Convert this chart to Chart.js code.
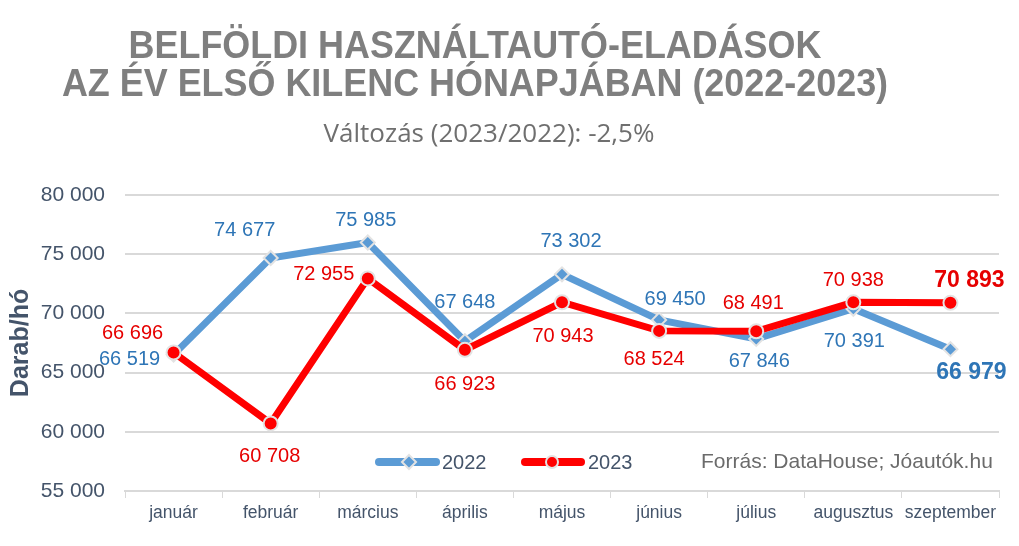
<!DOCTYPE html>
<html lang="hu">
<head>
<meta charset="utf-8">
<title>Belföldi használtautó-eladások</title>
<script src="https://cdn.jsdelivr.net/npm/chart.js@4.4.0/dist/chart.umd.min.js"></script>
<style>
  html, body { margin: 0; padding: 0; background: #fff; }
  #wrap { width: 1019px; height: 546px; }
</style>
</head>
<body>
<div id="wrap"><canvas id="myChart" width="1019" height="546"></canvas></div>
<script>
const months = ['január', 'február', 'március', 'április', 'május', 'június', 'július', 'augusztus', 'szeptember'];
const sales2022 = [66519, 74677, 75985, 67648, 73302, 69450, 67846, 70391, 66979];
const sales2023 = [66696, 60708, 72955, 66923, 70943, 68524, 68491, 70938, 70893];
const yMin = 55000;
const yMax = 80000;
const yStep = 5000;

// where each value label sits relative to its point (dx, dy in px)
const labelOffsets2022 = [[-44, 5], [-26, -28], [-2, -22], [0, -39], [9, -33], [16, -20], [3, 23], [1, 33], [21, 23]];
const labelOffsets2023 = [[-41, -19], [-1, 33], [-44, -4], [0, 35], [1, 34], [-5, 29], [-3, -28], [0, -22], [19, -22]];

const BLUE = '#5b9bd5';
const RED = '#ff0000';
const TXT = '#44546a';
const FONT = '"Liberation Sans", Arial, sans-serif';

const fmt = v => String(v).replace(/\B(?=(\d{3})+(?!\d))/g, ' ');

const valueLabels = {
  id: 'valueLabels',
  afterDatasetsDraw(chart) {
    const ctx = chart.ctx;
    ctx.save();
    ctx.textAlign = 'center';
    ctx.textBaseline = 'middle';
    chart.data.datasets.forEach((ds, i) => {
      const meta = chart.getDatasetMeta(i);
      meta.data.forEach((pt, j) => {
        const off = ds.labelOffsets[j];
        const last = j === ds.data.length - 1;
        ctx.font = (last ? 'bold 23px ' : '20px ') + FONT;
        ctx.fillStyle = ds.labelColor;
        ctx.fillText(fmt(ds.data[j]), pt.x + off[0], pt.y + off[1]);
      });
    });
    ctx.restore();
  }
};

// squeezed text, the title font in the original is a bit narrower than Arial
function narrowText(ctx, text, x, y, sx) {
  ctx.save();
  ctx.translate(x, y);
  ctx.scale(sx, 1);
  ctx.fillText(text, 0, 0);
  ctx.restore();
}

const decorations = {
  id: 'decorations',
  afterDraw(chart) {
    const ctx = chart.ctx;
    ctx.save();
    // title
    ctx.fillStyle = '#7f7f7f';
    ctx.textAlign = 'center';
    ctx.textBaseline = 'middle';
    ctx.font = 'bold 38px ' + FONT;
    narrowText(ctx, 'BELFÖLDI HASZNÁLTAUTÓ-ELADÁSOK', 475, 48, 0.945);
    narrowText(ctx, 'AZ ÉV ELSŐ KILENC HÓNAPJÁBAN (2022-2023)', 475, 86, 0.945);
    ctx.fillStyle = '#6f6f6f';
    ctx.font = '26px "Open Sans", "Noto Sans", sans-serif';
    ctx.fillText('Változás (2023/2022): -2,5%', 489, 135);

    // legend
    const ly = 462;
    ctx.lineCap = 'round';
    ctx.lineWidth = 8;
    ctx.strokeStyle = BLUE;
    ctx.beginPath(); ctx.moveTo(379, ly); ctx.lineTo(436, ly); ctx.stroke();
    ctx.strokeStyle = RED;
    ctx.beginPath(); ctx.moveTo(525, ly); ctx.lineTo(581, ly); ctx.stroke();

    ctx.lineWidth = 2;
    ctx.strokeStyle = '#e3e3e3';
    ctx.fillStyle = BLUE;
    ctx.beginPath();
    ctx.moveTo(409, ly - 7); ctx.lineTo(416, ly); ctx.lineTo(409, ly + 7); ctx.lineTo(402, ly);
    ctx.closePath(); ctx.fill(); ctx.stroke();
    ctx.fillStyle = RED;
    ctx.beginPath(); ctx.arc(552, ly, 6, 0, Math.PI * 2); ctx.fill(); ctx.stroke();

    ctx.textAlign = 'left';
    ctx.fillStyle = TXT;
    ctx.font = '20px ' + FONT;
    ctx.fillText('2022', 442, ly + 1);
    ctx.fillText('2023', 588, ly + 1);
    ctx.fillStyle = '#6b6b6b';
    ctx.font = '21px ' + FONT;
    ctx.fillText('Forrás: DataHouse; Jóautók.hu', 701, ly);
    ctx.restore();
  }
};

const ctx = document.getElementById('myChart');

new Chart(ctx, {
  type: 'line',
  data: {
    labels: months,
    datasets: [{
      label: '2022',
      data: sales2022,
      borderColor: BLUE,
      backgroundColor: BLUE,
      borderWidth: 7,
      pointStyle: 'rectRot',
      pointRadius: 7,
      pointBorderColor: '#e3e3e3',
      pointBorderWidth: 2,
      pointBackgroundColor: BLUE,
      tension: 0,
      order: 2,
      labelColor: '#2e75b6',
      labelOffsets: labelOffsets2022
    }, {
      label: '2023',
      data: sales2023,
      borderColor: RED,
      backgroundColor: RED,
      borderWidth: 7,
      pointStyle: 'circle',
      pointRadius: 7,
      pointBorderColor: '#e3e3e3',
      pointBorderWidth: 2,
      pointBackgroundColor: RED,
      tension: 0,
      order: 1,
      labelColor: '#e60000',
      labelOffsets: labelOffsets2023
    }]
  },
  options: {
    responsive: false,
    animation: false,
    devicePixelRatio: 1,
    layout: { padding: { top: 195, right: 20, bottom: 0, left: 0 } },
    plugins: {
      legend: { display: false },
      title: { display: false },
      tooltip: { enabled: false }
    },
    scales: {
      x: {
        offset: true,
        afterFit: s => { s.height = 55; },
        grid: {
          offset: true,
          drawOnChartArea: false,
          drawTicks: true,
          tickLength: 7,
          color: '#d9d9d9'
        },
        border: { color: '#d9d9d9', width: 2 },
        ticks: {
          color: TXT,
          padding: 5,
          maxRotation: 0,
          autoSkip: false,
          font: { family: FONT, size: 17.5 }
        }
      },
      y: {
        min: yMin,
        max: yMax,
        afterFit: s => { s.width = 125; },
        grid: { color: '#d9d9d9', lineWidth: 2, drawTicks: false },
        border: { display: false },
        ticks: {
          stepSize: yStep,
          color: TXT,
          padding: 20,
          font: { family: FONT, size: 21 },
          callback: v => fmt(v)
        },
        title: {
          display: true,
          text: 'Darab/hó',
          color: TXT,
          padding: { top: 6, bottom: 0 },
          font: { family: FONT, size: 25, weight: 'bold' }
        }
      }
    }
  },
  plugins: [valueLabels, decorations]
});
</script>
</body>
</html>
